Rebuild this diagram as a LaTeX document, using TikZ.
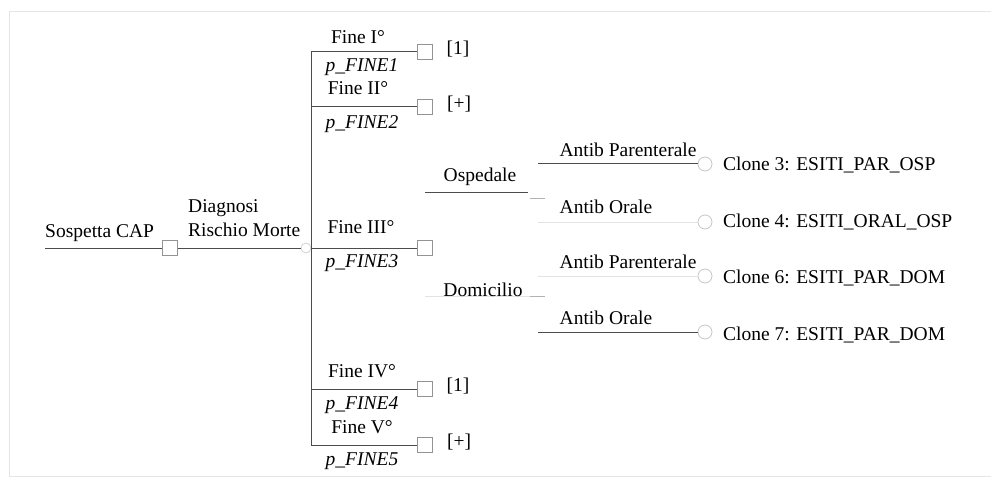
\documentclass[tikz,border=0pt]{standalone}
\usepackage{fontspec}
\setmainfont{Liberation Serif}
\begin{document}
\begin{tikzpicture}[x=1pt,y=-1pt,
  lbl/.style={inner sep=0pt, font=\fontsize{19.5}{22}\selectfont},
  ilbl/.style={lbl, font=\fontsize{19.5}{22}\selectfont\itshape},
  dec/.style={draw=gray!85, line width=0.8pt, minimum size=15pt, inner sep=0pt},
  chance/.style={circle, draw=gray!45, line width=0.8pt, minimum size=14pt, inner sep=0pt},
  br/.style={draw=black!70, line width=1pt},
  faint/.style={draw=gray!22, line width=1pt},
  frame/.style={draw=gray!20, line width=1pt}]
\useasboundingbox (0,0) rectangle (991,484);
% frame
\draw[frame] (991,12) -- (9,12) -- (9,476) -- (991,476);
% root
\coordinate (s0) at (45,248);
\node[dec] (d0) at (170,248) {};
\node[chance, minimum size=10pt, draw=gray!35] (c0) at (306,248) {};
\draw[br] (s0) -- (d0.west);
\draw[br] (d0.east) -- (c0.west);
\node[lbl, anchor=west] (tsos) at (45,233) {Sospetta CAP};
\node[lbl, anchor=west] (tdia) at (188,208) {Diagnosi};
\node[lbl, anchor=west] (tris) at (188,230) {Rischio Morte};
% vertical
\coordinate (v1) at (311,52);
\coordinate (v2) at (311,107);
\coordinate (v3) at (311,248);
\coordinate (v4) at (311,389);
\coordinate (v5) at (311,445);
\draw[br] (v1) -- (v5);
% Fine branches
\node[dec] (f1) at (424.5,52) {};
\node[dec] (f2) at (424.5,107) {};
\node[dec] (f3) at (424.5,248) {};
\node[dec] (f4) at (424.5,389) {};
\node[dec] (f5) at (424.5,445) {};
\draw[br] (v1) -- (f1.west);
\draw[br] (v2) -- (f2.west);
\draw[br] (v3) -- (f3.west);
\draw[br] (v4) -- (f4.west);
\draw[br] (v5) -- (f5.west);
\node[lbl] (tf1) at (358,37) {Fine I°};
\node[ilbl] (tp1) at (362,67) {p\_FINE1};
\node[lbl] (tf2) at (358,88) {Fine II°};
\node[ilbl] (tp2) at (362,124) {p\_FINE2};
\node[lbl] (tf3) at (361,227) {Fine III°};
\node[ilbl] (tp3) at (362,263) {p\_FINE3};
\node[lbl] (tf4) at (362,371) {Fine IV°};
\node[ilbl] (tp4) at (362,405) {p\_FINE4};
\node[lbl] (tf5) at (362,427) {Fine V°};
\node[ilbl] (tp5) at (362,461) {p\_FINE5};
\node[lbl] (r1) at (458,49) {[1]};
\node[lbl] (r2) at (459,104) {[+]};
\node[lbl] (r4) at (458,386) {[1]};
\node[lbl] (r5) at (459,442) {[+]};
% Ospedale / Domicilio
\coordinate (o1) at (425,192);
\coordinate (o2) at (528,192);
\draw[br] (o1) -- (o2);
\coordinate (o3) at (530,198);
\coordinate (o4) at (545,198);
\draw[draw=gray!60, line width=1pt] (o3) -- (o4);
\node[lbl] (tosp) at (480,177) {Ospedale};
\coordinate (m1) at (425,296);
\coordinate (m2) at (530,296);
\coordinate (m3) at (545,296);
\draw[faint] (m1) -- (m2);
\draw[draw=gray!60, line width=1pt] (m2) -- (m3);
\node[lbl] (tdom) at (483,290) {Domicilio};
% Antib branches
\node[chance] (k3) at (705,164) {};
\node[chance] (k4) at (705,222) {};
\node[chance] (k6) at (705,276) {};
\node[chance] (k7) at (705,332) {};
\coordinate (a1) at (538,164);
\coordinate (a2) at (538,222);
\coordinate (a3) at (538,276);
\coordinate (a4) at (538,332);
\draw[br] (a1) -- (k3.west);
\draw[faint] (a2) -- (k4.west);
\draw[faint] (a3) -- (k6.west);
\draw[br] (a4) -- (k7.west);
\node[lbl] (tap1) at (628,150) {Antib Parenterale};
\node[lbl] (tao1) at (606,207) {Antib Orale};
\node[lbl] (tap2) at (628,262) {Antib Parenterale};
\node[lbl] (tao2) at (606,318) {Antib Orale};
\node[lbl, anchor=west] (cl3) at (723,165) {Clone 3: ESITI\_PAR\_OSP};
\node[lbl, anchor=west] (cl4) at (723,222) {Clone 4: ESITI\_ORAL\_OSP};
\node[lbl, anchor=west] (cl6) at (723,278) {Clone 6: ESITI\_PAR\_DOM};
\node[lbl, anchor=west] (cl7) at (723,335) {Clone 7: ESITI\_PAR\_DOM};
\end{tikzpicture}
\end{document}
